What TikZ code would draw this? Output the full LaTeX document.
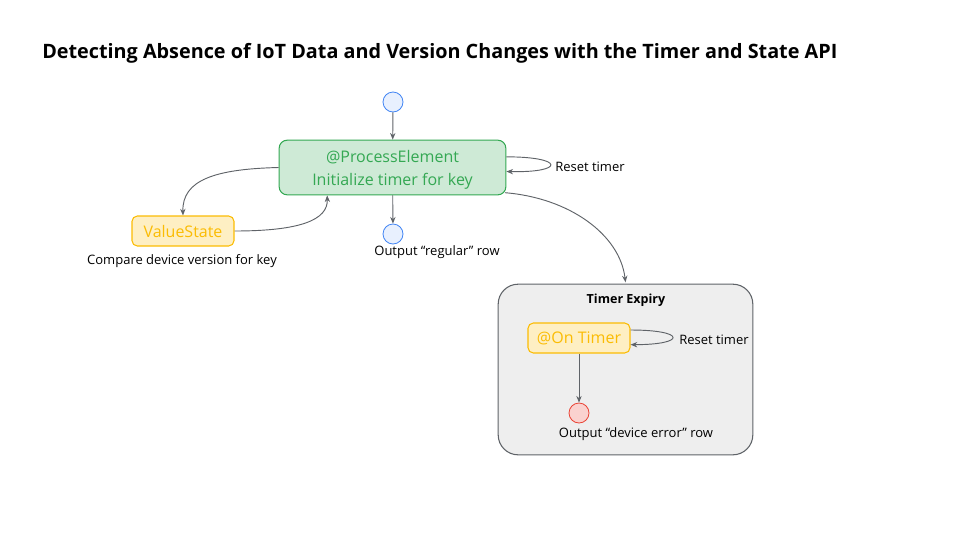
\documentclass[tikz,border=0pt]{standalone}
\usepackage{fontspec}
\setmainfont{Open Sans}
\usetikzlibrary{arrows.meta,calc}
\definecolor{linegray}{HTML}{5F6368}
\definecolor{blueF}{HTML}{E8F0FE}
\definecolor{blueS}{HTML}{4285F4}
\definecolor{greenF}{HTML}{CEEAD6}
\definecolor{greenS}{HTML}{34A853}
\definecolor{yelF}{HTML}{FEEFC3}
\definecolor{yelS}{HTML}{FBBC04}
\definecolor{redF}{HTML}{FAD2CF}
\definecolor{redS}{HTML}{EA4335}
\definecolor{boxF}{HTML}{EEEEEE}
\begin{document}
\begin{tikzpicture}[x=0.75pt,y=-0.75pt,
  conn/.style={draw=linegray,line width=0.7pt,-{Stealth[length=5pt,width=4pt]}},
  bluecirc/.style={circle,draw=blueS,fill=blueF,minimum size=15pt,inner sep=0pt,line width=0.6pt},
  redcirc/.style={circle,draw=redS,fill=redF,minimum size=15pt,inner sep=0pt,line width=0.6pt},
  greenbox/.style={draw=greenS,fill=greenF,rounded corners=6pt,line width=0.8pt,text=greenS,font=\fontsize{12}{17.25}\selectfont,align=center,inner sep=0pt},
  yelbox/.style={draw=yelS,fill=yelF,rounded corners=4pt,line width=0.8pt,text=yelS,font=\fontsize{12}{14}\selectfont,inner sep=0pt},
  lbl/.style={font=\fontsize{9.75}{12}\selectfont,text=black,inner sep=0pt},
]
\useasboundingbox (0,0) rectangle (960,540);
\node[anchor=west,font=\bfseries\fontsize{14.85}{17}\selectfont,inner sep=0pt] (title) at (42,53) {Detecting Absence of IoT Data and Version Changes with the Timer and State API};

\node[bluecirc] (start) at (393,102) {};
\node[greenbox,minimum width=170pt,minimum height=41pt] (pe) at (392.5,167.5) {\rule{0pt}{13pt}@ProcessElement\\Initialize timer for key};
\node[bluecirc] (out1) at (393,234) {};
\node[lbl] (out1l) at (437,252) {Output “regular” row};
\node[lbl,anchor=west] (reset1) at (555,167) {Reset timer};

\node[yelbox,minimum width=76.5pt,minimum height=22.5pt] (vs) at (183,231) {ValueState};
\node[lbl] (vsl) at (182,261) {Compare device version for key};

\node[draw=linegray,fill=boxF,rounded corners=15pt,line width=0.8pt,minimum width=191pt,minimum height=128pt,inner sep=0pt] (te) at (625.5,369.5) {};
\node[font=\bfseries\fontsize{9.4}{12}\selectfont,inner sep=0pt] (tel) at (626,300) {Timer Expiry};
\node[yelbox,minimum width=76.5pt,minimum height=22.5pt] (ot) at (579,338) {@On Timer};
\node[lbl,anchor=west] (reset2) at (679,340) {Reset timer};
\node[redcirc] (out2) at (579,413) {};
\node[lbl] (out2l) at (636,434) {Output “device error” row};

\draw[conn] (start) -- (pe);
\draw[conn] (pe) -- (out1);
\draw[conn] ([yshift=8pt]pe.east) .. controls ([xshift=44pt,yshift=8pt]pe.east) and ([xshift=44pt,yshift=-4pt]pe.east) .. ([yshift=-3pt]pe.east);
\draw[conn] (pe.west) .. controls (215,169) and (182,180) .. (vs.north);
\draw[conn] (vs.east) .. controls (300,231) and (328,220) .. ([xshift=-49pt]pe.south);
\draw[conn] ([xshift=-1pt,yshift=2pt]pe.south east) .. controls (570,198) and (620,235) .. ([yshift=1pt]te.north);
\draw[conn] ([yshift=6pt]ot.east) .. controls ([xshift=42pt,yshift=6pt]ot.east) and ([xshift=42pt,yshift=-5pt]ot.east) .. ([yshift=-5pt]ot.east);
\draw[conn] (ot.south) -- (out2);
\end{tikzpicture}
\end{document}
